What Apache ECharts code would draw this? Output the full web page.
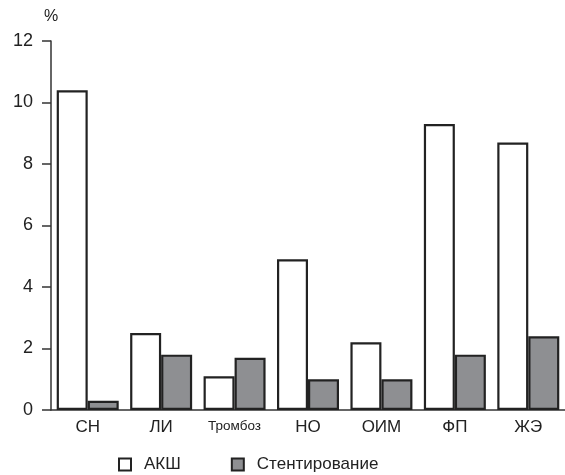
<!DOCTYPE html>
<html>
<head>
<meta charset="utf-8">
<script src="https://cdn.jsdelivr.net/npm/echarts@6/dist/echarts.min.js"></script>
<style>html,body{margin:0;padding:0;background:#fff}#c{width:565px;height:475px}</style>
</head>
<body>
<div id="c"></div>
<script>
var categories = ['СН', 'ЛИ', 'Тромбоз', 'НО', 'ОИМ', 'ФП', 'ЖЭ'];
var akshValues = [10.4, 2.5, 1.1, 4.9, 2.2, 9.3, 8.7];
var stentValues = [0.3, 1.8, 1.7, 1.0, 1.0, 1.8, 2.4];
var seriesNames = ['АКШ', 'Стентирование'];
var yTicks = [0, 2, 4, 6, 8, 10, 12];

var font = 'Liberation Sans, Arial, sans-serif';
var chart = echarts.init(document.getElementById('c'), null, {renderer: 'canvas'});
chart.setOption({
  animation: false,
  backgroundColor: '#fff',
  textStyle: {fontFamily: font},
  grid: {left: 51, top: 41, width: 522, height: 369, containLabel: false},
  legend: {
    left: 118, top: 456, padding: 0,
    itemWidth: 12, itemHeight: 12, itemGap: 50,
    icon: 'rect',
    textStyle: {fontSize: 17, color: '#222', fontFamily: font, padding: [0, 0, 0, 8]},
    data: seriesNames
  },
  xAxis: {
    type: 'category',
    data: categories,
    axisLine: {lineStyle: {color: '#333', width: 1.5}},
    axisTick: {length: 7, lineStyle: {color: '#333', width: 1.5}},
    axisLabel: {
      interval: 0,
      margin: 9, fontSize: 17, color: '#222', fontFamily: font,
      formatter: function (v) { return v === 'Тромбоз' ? '{s|' + v + '}' : v; },
      rich: {s: {fontSize: 13.5, color: '#222', fontFamily: font}}
    }
  },
  yAxis: {
    type: 'value',
    min: yTicks[0], max: yTicks[yTicks.length - 1], interval: 2,
    name: '%',
    nameLocation: 'end',
    nameGap: 16,
    nameTextStyle: {fontSize: 16, color: '#222', align: 'center', fontFamily: font},
    axisLine: {show: true, lineStyle: {color: '#333', width: 1.5}},
    axisTick: {show: true, length: 9, lineStyle: {color: '#333', width: 1.5}},
    axisLabel: {margin: 18, fontSize: 18, color: '#222', fontFamily: font},
    splitLine: {show: false}
  },
  series: [
    {
      name: seriesNames[0], type: 'bar', data: akshValues,
      barWidth: 31, barGap: '0%',
      itemStyle: {color: '#ffffff', borderColor: '#222', borderWidth: 2.2}
    },
    {
      name: seriesNames[1], type: 'bar', data: stentValues,
      barWidth: 31, barGap: '0%',
      itemStyle: {color: '#8e8f92', borderColor: '#222', borderWidth: 2.2}
    }
  ]
});
</script>
</body>
</html>
